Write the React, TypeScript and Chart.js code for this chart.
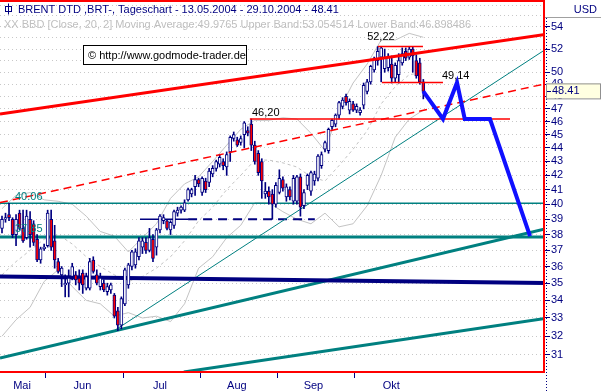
import React, { useEffect, useRef } from "react";
import { Chart, registerables } from "chart.js";

Chart.register(...registerables);

// ---------- DATA ----------
const opens = [38.4,39.0,39.3,39.0,38.0,39.4,38.4,37.8,39.0,38.7,37.7,36.4,37.1,37.3,39.0,37.6,36.3,35.5,34.9,35.0,35.4,35.5,35.3,35.6,34.7,34.7,36.4,35.5,34.8,35.0,34.5,34.6,34.3,33.4,32.6,33.8,34.9,36.0,36.1,36.6,37.2,37.5,37.0,37.7,37.2,38.3,38.9,38.9,38.3,38.6,39.4,39.6,39.6,40.3,40.7,41.2,41.7,40.8,41.6,41.5,42.1,42.5,42.8,43.0,42.6,43.7,44.7,44.6,44.4,45.0,45.3,45.8,44.2,43.6,43.0,40.7,40.9,40.7,40.0,40.8,41.7,40.5,41.0,40.2,40.2,41.9,39.9,41.3,40.9,41.6,41.8,42.7,43.9,43.8,45.6,45.8,46.5,47.2,48.0,46.9,47.4,46.9,46.7,47.3,48.4,49.2,50.2,51.0,51.3,50.3,50.4,50.7,49.5,49.8,50.8,51.8,51.3,52.0,51.0,50.8,49.2];
const highs = [39.2,39.4,40.06,39.1,39.3,39.6,39.6,39.6,39.5,38.9,38.0,37.2,37.4,39.6,39.6,38.6,36.5,36.0,35.5,35.8,36.2,35.7,35.8,35.8,35.6,36.5,36.6,35.8,35.6,35.2,35.0,35.0,34.4,33.6,34.2,35.9,36.2,37.0,37.1,37.8,37.8,37.8,38.4,38.0,38.4,39.3,39.3,39.0,38.9,39.6,39.8,39.9,40.3,41.1,41.1,42.0,41.8,41.9,41.8,42.5,42.7,43.1,43.5,43.2,43.7,44.9,45.2,44.8,44.9,46.0,45.6,46.2,44.5,43.8,43.2,41.5,41.2,41.0,41.5,42.4,41.9,41.4,41.2,42.0,42.0,42.1,41.0,42.1,42.3,42.3,43.5,43.7,44.5,45.5,46.2,46.6,47.6,47.9,48.2,47.8,47.6,47.4,47.1,49.1,49.4,50.6,51.3,52.22,52.22,52.0,51.6,51.4,50.8,51.6,52.1,52.1,52.22,52.2,51.5,51.2,49.4];
const lows = [38.1,38.8,38.9,37.8,37.3,38.3,37.5,37.7,37.2,37.3,36.3,36.2,37.0,37.2,37.0,35.9,35.6,34.8,34.2,34.2,35.2,34.9,34.6,34.4,34.6,34.6,35.6,34.9,34.6,34.5,34.3,34.4,33.0,32.3,32.4,33.7,34.7,35.8,35.9,36.4,36.8,36.8,36.9,36.3,36.7,38.1,38.7,38.3,38.0,38.4,39.2,39.4,39.5,40.2,40.5,40.6,41.2,40.6,40.8,41.2,41.9,42.3,42.6,42.4,42.0,43.0,44.5,44.1,44.2,44.0,44.9,43.8,42.8,42.0,40.4,40.4,40.0,39.0,39.8,40.7,40.9,40.2,40.3,40.0,40.0,39.2,39.7,41.0,40.6,41.3,41.6,42.5,43.7,43.6,45.4,45.6,46.2,47.0,47.3,46.6,46.8,46.7,46.5,47.0,48.2,49.0,50.0,50.6,49.2,50.0,50.1,49.1,49.14,49.1,50.6,51.0,51.1,50.0,49.5,49.0,47.8];
const closes = [39.0,39.1,39.1,38.0,39.0,38.4,37.6,39.2,38.0,37.5,36.4,37.1,37.2,39.4,37.2,36.4,35.7,35.9,35.0,35.3,36.0,35.2,35.0,34.9,35.4,36.3,35.7,35.0,35.3,34.6,34.8,34.9,33.1,32.6,34.1,35.8,36.1,36.9,36.9,37.6,37.6,37.0,37.8,36.5,38.3,39.2,39.1,38.4,38.8,39.5,39.6,39.8,40.1,41.0,41.0,41.7,41.4,41.8,41.0,42.3,42.5,43.0,43.3,42.7,43.5,44.8,45.0,44.2,44.7,45.9,45.1,44.2,43.0,42.2,41.6,40.9,40.5,40.0,41.3,41.8,41.1,41.2,40.5,41.8,41.9,39.8,40.8,42.0,42.2,42.1,43.4,43.5,44.4,45.4,46.1,46.5,47.5,47.7,47.5,47.6,46.9,47.2,46.9,48.9,49.2,50.5,51.1,51.8,52.1,51.2,51.3,49.5,50.6,51.0,51.6,51.2,52.0,51.4,49.7,49.2,48.41];

// Bollinger bands (20, 2) read at every 4th session
const bbIdx = [0,4,8,12,16,20,24,28,32,36,40,44,48,52,56,60,64,68,72,76,80,84,88,92,96,100,104,108,112,116,120];
const bbUpper = [39.7,40.6,40.8,40.3,40.2,40.0,39.2,38.2,37.9,36.9,37.8,38.7,40.4,41.4,41.9,43.0,44.2,45.4,46.1,46.1,46.3,46.2,45.1,43.8,46.9,49.1,50.7,52.8,52.8,53.4,53.05];
const bbMid = [35.5,36.3,37.0,37.7,38.0,37.4,36.6,36.0,35.5,35.1,35.4,35.9,36.6,37.6,38.9,39.8,41.0,42.0,43.1,43.1,42.9,42.6,41.9,41.6,42.7,43.9,45.3,47.4,48.8,49.8,49.98];
const bbLower = [32.0,32.9,33.6,35.1,35.8,34.8,34.0,33.8,33.1,33.3,33.0,33.1,32.8,33.8,35.9,36.6,37.8,38.6,40.1,40.1,39.5,39.0,38.7,39.4,38.5,38.7,39.9,42.0,44.8,46.2,46.9];

// Axis ticks
const yGridValues = [31,32,33,34,35,36,37,38,39,40,41,42,43,44,45,46,47,48,49,50,51,52,53,54,55,56];
const yLabelValues = [31,32,33,34,35,36,37,38,39,40,41,42,43,44,45,46,47,48,49,50,52,54];
const monthLabels = ["Mai","Jun","Jul","Aug","Sep","Okt"];
const monthLabelPos = [5.7,22.9,45.0,66.9,88.7,110.9];
const monthTickPos = [12.5,34.5,56.5,78.5,100.5];

// Drawn trend lines / levels: [session index, price]
const redUpperLine = [[-0.57,46.59],[154.66,53.30]];
const redDashedLine = [[-0.57,40.11],[154.66,49.03]];
const level4620Line = [[70.6,46.2],[144.7,46.2]];
const level5222Line = [[107.1,52.22],[119.9,52.22]];
const level4914Line = [[108.2,49.14],[125.6,49.14]];
const level4006Line = [[-0.57,40.06],[154.66,40.06]];
const level3785Line = [[-0.57,37.85],[154.66,37.85]];
const navyLevelLine = [[-0.57,35.40],[154.66,35.01]];
const tealThinDiag = [[32.2,32.33],[154.66,51.94]];
const tealChannelA = [[-0.57,30.84],[154.66,38.36]];
const tealChannelB = [[51.8,30.12],[154.66,32.97]];
const navySolid39 = [[39.3,39.0],[53.0,39.0]];
const navyDash39 = [[53.0,39.0],[89.1,39.0]];
const projIdx = [120,125.6,129.6,131.8,139,150.4];
const projPrice = [48.41,46.2,49.14,46.2,46.2,37.9];

// Text annotations
const noteTexts = ["40.06","37.85","46,20","52,22","49,14"];
const noteIdx = [3.7,3.7,71.2,104.0,125.3];
const notePrice = [40.06,37.85,46.2,52.22,49.14];
const noteDy = [-6,-8,-6.5,-9.5,-6.4];
const noteColors = ["#008080","#008080","#000000","#000000","#000000"];

const titleText = "BRENT DTD ,BRT-, Tageschart - 13.05.2004 - 29.10.2004 - 48.41";
const subText = "XX BBD [Close, 20, 2] Moving Average:49.9765 Upper Band:53.054514 Lower Band:46.898486";
const copyText = "\u00A9 http://www.godmode-trader.de";
const lastPrice = 48.41;

// ---------- STYLE ----------
const NAVY = "#000080";
const RED = "#ff0000";
const TEAL = "#008080";
const FONT = "'Liberation Sans', Arial, sans-serif";

const pts = (arr: number[][]) => arr.map(([x, y]) => ({ x, y }));
const lineDs = (arr: number[][], color: string, width: number, order: number, dash: number[] = []) => ({
  type: "line" as const,
  data: pts(arr),
  borderColor: color,
  borderWidth: width,
  borderDash: dash,
  pointRadius: 0,
  fill: false,
  tension: 0,
  order,
});

export default function App() {
  const ref = useRef<HTMLCanvasElement>(null);

  useEffect(() => {
    document.body.style.margin = "0";
    const canvas = ref.current!;

    const wicks = closes.map((_, i) => ({ x: i, y: [lows[i], highs[i]] }));
    const bodies = closes.map((c, i) => ({ x: i, y: [Math.min(opens[i], c), Math.max(opens[i], c)] }));
    const bodyColors = closes.map((c, i) => (c < opens[i] ? RED : "#ffffff"));

    const deco = {
      id: "deco",
      beforeDraw(chart: any) {
        const ctx = chart.ctx;
        ctx.save();
        ctx.fillStyle = "#ffffff";
        ctx.fillRect(0, 0, chart.width, chart.height);
        ctx.restore();
      },
      afterDatasetsDraw(chart: any) {
        const ctx = chart.ctx;
        const xs = chart.scales.x;
        const ys = chart.scales.y;
        ctx.save();
        ctx.font = `11px ${FONT}`;
        ctx.textBaseline = "middle";
        ctx.textAlign = "left";
        for (let k = 0; k < noteTexts.length; k++) {
          ctx.fillStyle = noteColors[k];
          ctx.fillText(noteTexts[k], xs.getPixelForValue(noteIdx[k]), ys.getPixelForValue(notePrice[k]) + noteDy[k]);
        }
        // title lines
        ctx.fillStyle = NAVY;
        ctx.fillText(titleText, 18, 9.5);
        ctx.fillStyle = "#c0c0c0";
        ctx.fillText(subText, 4, 24.5);
        // icon
        ctx.strokeStyle = NAVY;
        ctx.lineWidth = 1;
        ctx.strokeRect(5.5, 6.5, 6, 5);
        ctx.beginPath();
        ctx.moveTo(8.5, 3.5);
        ctx.lineTo(8.5, 14.5);
        ctx.stroke();
        // copyright box
        ctx.fillStyle = "#ffffff";
        ctx.fillRect(83, 45, 163, 19);
        ctx.strokeStyle = "#000000";
        ctx.strokeRect(83.5, 45.5, 163, 19);
        ctx.fillStyle = "#000000";
        ctx.fillText(copyText, 88, 55.5);
        ctx.restore();
      },
      afterDraw(chart: any) {
        const ctx = chart.ctx;
        const ys = chart.scales.y;
        const area = chart.chartArea;
        ctx.save();
        // red frame
        ctx.fillStyle = RED;
        ctx.fillRect(0, 0, area.right, 2);
        ctx.fillRect(area.right - 2, 0, 2, area.bottom + 1);
        ctx.fillRect(0, area.bottom - 1, area.right, 2);
        // dotted axis line
        ctx.strokeStyle = NAVY;
        ctx.lineWidth = 1;
        ctx.setLineDash([1, 2]);
        ctx.beginPath();
        ctx.moveTo(area.right + 1.5, 18);
        ctx.lineTo(area.right + 1.5, chart.height);
        ctx.stroke();
        ctx.setLineDash([]);
        // USD header
        ctx.strokeStyle = "#a0a0a0";
        ctx.beginPath();
        ctx.moveTo(area.right, 17.5);
        ctx.lineTo(chart.width, 17.5);
        ctx.stroke();
        ctx.font = `11px ${FONT}`;
        ctx.fillStyle = NAVY;
        ctx.textAlign = "right";
        ctx.textBaseline = "middle";
        ctx.fillText("USD", 597, 9.5);
        // last price box
        const py = ys.getPixelForValue(lastPrice);
        ctx.fillStyle = "#ffffe1";
        ctx.fillRect(area.right + 1, py - 8, 54, 15);
        ctx.strokeStyle = "#909090";
        ctx.strokeRect(area.right + 1.5, py - 7.5, 54, 15);
        ctx.fillStyle = NAVY;
        ctx.fillRect(area.right + 2, Math.round(py), 4, 1);
        ctx.textAlign = "left";
        ctx.fillText(lastPrice.toFixed(2), area.right + 7, py);
        ctx.restore();
      },
    };

    const chart = new Chart(canvas, {
      type: "bar",
      data: {
        datasets: [
          lineDs(pts2(bbIdx, bbUpper), "#c4c4c4", 1, 20),
          lineDs(pts2(bbIdx, bbMid), "#c4c4c4", 1, 20, [3, 3]),
          lineDs(pts2(bbIdx, bbLower), "#c4c4c4", 1, 20),
          lineDs(level4006Line, TEAL, 1.5, 15),
          lineDs(level3785Line, TEAL, 3, 15),
          lineDs(navyLevelLine, NAVY, 4, 15),
          lineDs(tealThinDiag, TEAL, 1, 15),
          lineDs(tealChannelA, TEAL, 3, 15),
          lineDs(tealChannelB, TEAL, 3, 15),
          lineDs(navySolid39, NAVY, 1.5, 15),
          lineDs(navyDash39, NAVY, 2, 15, [9, 6]),
          {
            type: "bar" as const,
            data: wicks as any,
            backgroundColor: NAVY,
            borderWidth: 0,
            barThickness: 1,
            grouped: false,
            order: 10,
          },
          {
            type: "bar" as const,
            data: bodies as any,
            backgroundColor: bodyColors,
            borderColor: NAVY,
            borderWidth: 1,
            borderSkipped: false,
            barThickness: 3,
            grouped: false,
            order: 9,
          },
          lineDs(redUpperLine, RED, 3, 5),
          lineDs(redDashedLine, RED, 1.5, 5, [8, 5]),
          lineDs(level4620Line, RED, 1.5, 5),
          lineDs(level5222Line, RED, 1.5, 5),
          lineDs(level4914Line, RED, 1.5, 5),
          lineDs(pts2(projIdx, projPrice), "#1010ff", 4, 1),
        ] as any,
      },
      options: {
        responsive: false,
        animation: false,
        devicePixelRatio: 1,
        layout: { padding: 0 },
        plugins: { legend: { display: false }, tooltip: { enabled: false }, title: { display: false } },
        scales: {
          x: {
            type: "linear",
            min: -0.57,
            max: 154.66,
            offset: false,
            afterBuildTicks: (scale: any) => {
              scale.ticks = [...monthTickPos, ...monthLabelPos].sort((a, b) => a - b).map((v) => ({ value: v }));
            },
            afterFit: (scale: any) => {
              scale.height = 19;
              scale.paddingLeft = 0;
              scale.paddingRight = 0;
            },
            grid: {
              drawOnChartArea: false,
              drawTicks: true,
              tickLength: 6,
              tickWidth: 1,
              tickColor: (ctx: any) => (ctx.tick && monthTickPos.includes(ctx.tick.value) ? NAVY : "rgba(0,0,0,0)"),
              offset: false,
            },
            border: { display: false },
            ticks: {
              autoSkip: false,
              maxRotation: 0,
              padding: 1,
              color: NAVY,
              font: { family: FONT, size: 11 },
              callback: (value: any) => {
                const k = monthLabelPos.indexOf(Number(value));
                return k >= 0 ? monthLabels[k] : "";
              },
            },
          },
          y: {
            type: "logarithmic",
            position: "right",
            min: 30.12,
            max: 56.5,
            afterBuildTicks: (scale: any) => {
              scale.ticks = yGridValues.map((v) => ({ value: v }));
            },
            afterFit: (scale: any) => {
              scale.width = 56;
              scale.paddingTop = 0;
              scale.paddingBottom = 0;
            },
            grid: {
              color: "#c8c8c8",
              lineWidth: 1,
              drawTicks: true,
              tickLength: 5,
              tickColor: (ctx: any) => (ctx.tick && yLabelValues.includes(ctx.tick.value) ? NAVY : "rgba(0,0,0,0)"),
              tickBorderDash: [],
            },
            border: { display: false, dash: [1, 3] },
            ticks: {
              autoSkip: false,
              padding: 1,
              color: NAVY,
              font: { family: FONT, size: 11 },
              callback: (value: any) => (yLabelValues.includes(Number(value)) ? String(value) : ""),
            },
          },
        },
      },
      plugins: [deco],
    } as any);

    return () => chart.destroy();
  }, []);

  return (
    <div style={{ position: "absolute", left: 0, top: 0, width: 601, height: 391 }}>
      <canvas ref={ref} width={601} height={391} style={{ display: "block", width: 601, height: 391 }} />
    </div>
  );
}

function pts2(xs: number[], ys: number[]) {
  return xs.map((x, i) => [x, ys[i]]);
}
